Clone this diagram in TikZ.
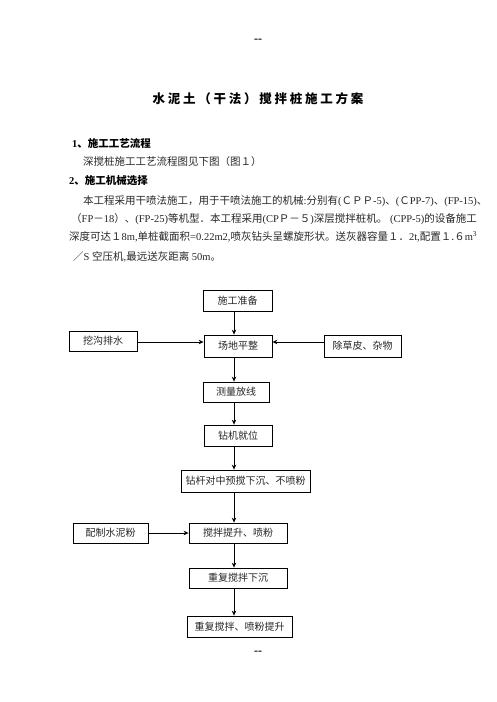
\documentclass[tikz,border=0pt]{standalone}
\usepackage{fontspec}
\setmainfont{Liberation Serif}
\newfontfamily\cjk{Noto Sans CJK SC}
\newfontfamily\cjktitle[LetterSpace=22]{Noto Sans CJK SC}
\newcommand\zh[1]{{\cjk #1}}
\usetikzlibrary{arrows.meta}
\tikzset{
  txt/.style={anchor=west, inner sep=0pt, text=black!85, font=\fontsize{10.5}{12}\selectfont},
  head/.style={anchor=west, inner sep=0pt, font=\fontsize{10.5}{12}\selectfont\bfseries},
  box/.style={draw, line width=0.8pt, inner sep=0pt, minimum height=21pt, text=black!85, font=\cjk\fontsize{10}{12}\selectfont},
  arr/.style={line width=0.8pt, -{Stealth[length=5pt,width=4.5pt]}},
  pagemark/.style={inner sep=0pt, font=\bfseries\fontsize{12}{14}\selectfont},
}
\begin{document}
\begin{tikzpicture}[x=1pt,y=-1pt]
\useasboundingbox (0,0) rectangle (496,702);
% page marks
\node[pagemark] (top) at (258,41) {-{}-};
\node[pagemark] (bot) at (258,653) {-{}-};
% title
\node[inner sep=0pt, font=\cjktitle\bfseries\fontsize{12.5}{14}\selectfont] (title) at (258,99) {水泥土（干法）搅拌桩施工方案};
% headings and text
\node[head] (h1) at (72,143) {1\zh{、施工工艺流程}};
\node[txt] (t1) at (83,162) {\zh{深搅桩施工工艺流程图见下图（图１）}};
\node[head] (h2) at (69,181) {2\zh{、施工机械选择}};
\node[txt] (p1) at (83,201) {\zh{本工程采用干喷法施工，用于干喷法施工的机械}:\zh{分别有}(\zh{ＣＰＰ}-5)\zh{、}(\zh{Ｃ}PP-7)\zh{、}(FP-15)\zh{、}};
\node[txt] (p2) at (71,219) {\zh{（}FP\zh{－}18\zh{）、}(FP-25)\zh{等机型．本工程采用}(CP\zh{Ｐ－５})\zh{深层搅拌桩机。} (CPP-5)\zh{的设备施工}};
\node[txt] (p3) at (69,237) {\zh{深度可达１}8m,\zh{单桩截面积}=0.22m2,\zh{喷灰钻头呈螺旋形状。送灰器容量１．}2t,\zh{配置１.６}m\textsuperscript{3}};
\node[txt] (p4) at (73,257) {\zh{／}S \zh{空压机},\zh{最远送灰距离} 50m\zh{。}};
% flowchart
\node[box, minimum width=69pt] (a) at (237.5,300.5) {施工准备};
\node[box, minimum width=68pt, minimum height=22pt] (b) at (238,346) {场地平整};
\node[box, minimum width=68pt, minimum height=20pt] (w) at (103,341) {挖沟排水};
\node[box, minimum width=77pt, minimum height=22pt] (c) at (362.5,346) {除草皮、杂物};
\node[box, minimum width=66pt, minimum height=20pt] (d) at (236,392) {测量放线};
\node[box, minimum width=68pt] (e) at (238,435.5) {钻机就位};
\node[box, minimum width=129pt, minimum height=22pt] (f) at (245.5,481) {钻杆对中预搅下沉、不喷粉};
\node[box, minimum width=75pt, minimum height=20pt] (p) at (110.5,533) {配制水泥粉};
\node[box, minimum width=98pt, minimum height=20pt] (g) at (238,533) {搅拌提升、喷粉};
\node[box, minimum width=98pt, minimum height=20pt] (h) at (238,578) {重复搅拌下沉};
\node[box, minimum width=105pt] (i) at (239.5,626.5) {重复搅拌、喷粉提升};
\coordinate (xl) at (234,0);
\coordinate (ya) at (0,342);
\draw[arr] (a.south -| xl) -- (b.north -| xl);
\draw[arr] (b.south -| xl) -- (d.north -| xl);
\draw[arr] (d.south -| xl) -- (e.north -| xl);
\draw[arr] (e.south -| xl) -- (f.north -| xl);
\draw[arr] (f.south -| xl) -- (g.north -| xl);
\draw[arr] (g.south -| xl) -- (h.north -| xl);
\draw[arr] (h.south -| xl) -- (i.north -| xl);
\draw[arr] (w.east |- ya) -- (b.west |- ya);
\draw[arr] (c.west |- ya) -- (b.east |- ya);
\draw[arr] (p.east) -- (g.west);
\end{tikzpicture}
\end{document}
